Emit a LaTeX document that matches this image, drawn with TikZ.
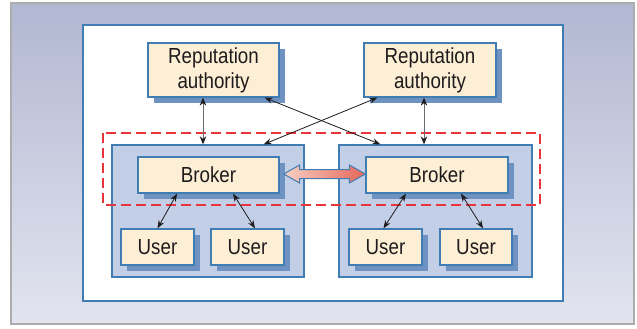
\documentclass[tikz,border=0pt]{standalone}
\usepackage{fontspec}
\setmainfont[FakeStretch=0.86]{Liberation Sans}
\usepackage{tikz}
\usetikzlibrary{arrows.meta,positioning,calc,shadows}
\definecolor{boxblue}{HTML}{3F7DB3}
\definecolor{shadeblue}{HTML}{6E93C2}
\definecolor{cream}{HTML}{FDEFD5}
\definecolor{groupblue}{HTML}{C3CFE7}
\definecolor{zonered}{HTML}{E8353B}
\definecolor{bgtop}{HTML}{B2B7D2}
\definecolor{bgbottom}{HTML}{E2E4EF}
\definecolor{inkgray}{HTML}{1E1B1C}
\definecolor{linkpink}{HTML}{F7CFC3}
\definecolor{linkred}{HTML}{E8665A}

\begin{document}
\begin{tikzpicture}[x=1pt,y=-1pt,
  every node/.style={text=inkgray,font=\fontsize{21.8}{25}\selectfont},
  entity/.style={draw=boxblue,line width=1.3pt,fill=cream,inner sep=0pt,align=center,
    drop shadow={shadow xshift=6pt,shadow yshift=-6pt,fill=shadeblue,opacity=1}},
  group/.style={draw=boxblue,line width=1.3pt,fill=groupblue,inner sep=0pt,
    minimum width=192pt,minimum height=132pt},
  link/.style={line width=0.8pt,draw=inkgray,{Stealth[length=8pt,width=6pt]}-{Stealth[length=8pt,width=6pt]}},
  vlink/.style={line width=0.9pt,draw=gray!85!black,{Stealth[inkgray,length=8pt,width=6.5pt]}-{Stealth[inkgray,length=8pt,width=6.5pt]}},
  zone/.style={draw=zonered,line width=2.8pt,dash pattern=on 10pt off 5pt}]
  \useasboundingbox (0,0) rectangle (637,329);
  % frame
  \draw[gray!65,line width=1.2pt,top color=bgtop,bottom color=bgbottom] (11,3) rectangle (634,324);
  \draw[boxblue,line width=1.3pt,fill=white] (83,25) rectangle (563,301);
  % domains
  \node[group] (grpL) at (208,211) {};
  \node[group,minimum width=193pt] (grpR) at (435.5,211) {};
  \draw[zone] (103,133) rectangle (540,205);
  % entities
  \node[entity,minimum width=131pt,minimum height=54pt] (raL) at (213.5,70) {Reputation\\authority};
  \node[entity,minimum width=132pt,minimum height=54pt] (raR) at (430,70) {Reputation\\authority};
  \node[entity,minimum width=141pt,minimum height=36pt] (brkL) at (208.5,175) {Broker};
  \node[entity,minimum width=142pt,minimum height=36pt] (brkR) at (437,175) {Broker};
  \node[entity,minimum width=73pt,minimum height=36pt] (usrA) at (157.5,247) {User};
  \node[entity,minimum width=73pt,minimum height=36pt] (usrB) at (247.5,247) {User};
  \node[entity,minimum width=73pt,minimum height=36pt] (usrC) at (385.5,247) {User};
  \node[entity,minimum width=72pt,minimum height=36pt] (usrD) at (476,247) {User};
  % authority links
  \draw[vlink] ([xshift=-10.5pt]raL.south) -- ([xshift=-10.5pt]raL.south |- grpL.north);
  \draw[vlink] ([xshift=-6pt]raR.south) -- ([xshift=-6pt]raR.south |- grpR.north);
  \draw[link] ([xshift=-15pt]raL.south east) -- ([xshift=42pt]grpR.north west);
  \draw[link] ([xshift=14pt]raR.south west) -- ([xshift=-41pt]grpL.north east);
  % broker to users
  \draw[link] ([xshift=-31.5pt]brkL.south) -- (usrA.north);
  \draw[link] ([xshift=24.5pt]brkL.south) -- ([xshift=7.5pt]usrB.north);
  \draw[link] ([xshift=-31pt]brkR.south) -- ([xshift=-2pt]usrC.north);
  \draw[link] ([xshift=24pt]brkR.south) -- ([xshift=7pt]usrD.north);
  % broker exchange
  \path[draw=boxblue,line width=1pt,left color=linkpink,right color=linkred]
    ($(brkL.east)+(4,-1)$) -- ++(16,-9) -- ++(0,4.5) -- ($(brkR.west)+(-16,-5.5)$)
    -- ++(0,-4.5) -- ($(brkR.west)+(0,-1)$) -- ++(-16,9) -- ++(0,-4.5)
    -- ($(brkL.east)+(20,3.5)$) -- ++(0,4.5) -- cycle;
\end{tikzpicture}
\end{document}
